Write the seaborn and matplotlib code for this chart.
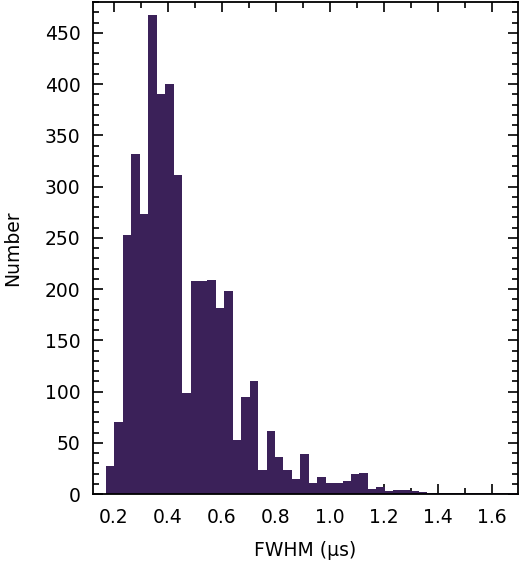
import numpy as np
import pandas as pd
import matplotlib
matplotlib.use("Agg")
import matplotlib.pyplot as plt
import seaborn as sns
from matplotlib.ticker import MultipleLocator

# Histogram bins (FWHM in microseconds)
bin_start = 0.171
bin_width = 0.0313
counts = [28, 70, 253, 332, 273, 468, 390, 400, 311, 99,
          208, 208, 209, 182, 198, 53, 95, 110, 24, 62,
          36, 24, 15, 39, 11, 17, 11, 11, 13, 20,
          21, 5, 7, 3, 4, 4, 3, 2, 1, 1,
          1, 1, 1, 1, 1, 1, 1, 1, 1]
x_ticks = [0.2, 0.4, 0.6, 0.8, 1.0, 1.2, 1.4, 1.6]
y_ticks = [0, 50, 100, 150, 200, 250, 300, 350, 400, 450]

edges = [float(e) for e in bin_start + bin_width * np.arange(len(counts) + 1)]
centers = [(a + b) / 2 for a, b in zip(edges[:-1], edges[1:])]
df = pd.DataFrame({"fwhm": centers, "n": counts})

sns.set_style("ticks")
plt.rcParams["font.family"] = ["DejaVu Sans"]
plt.rcParams["text.color"] = "black"
plt.rcParams["axes.labelcolor"] = "black"
plt.rcParams["xtick.color"] = "black"
plt.rcParams["ytick.color"] = "black"

fig = plt.figure(figsize=(5.2, 5.61), dpi=100)
ax = fig.add_axes([0.179, 0.119, 0.817, 0.877])
sns.histplot(data=df, x="fwhm", weights="n", bins=edges, ax=ax,
             color="#3b2159", alpha=1.0, edgecolor="none", linewidth=0)

ax.set_xlim(0.123, 1.697)
ax.set_ylim(0, 480)
ax.set_xticks(x_ticks)
ax.set_yticks(y_ticks)
ax.xaxis.set_minor_locator(MultipleLocator(0.1))
ax.yaxis.set_minor_locator(MultipleLocator(10))
ax.tick_params(which="both", direction="in", top=True, right=True,
               labelsize=13.5, width=1.2, colors="black")
ax.tick_params(which="major", length=7)
ax.tick_params(which="minor", length=4)
ax.tick_params(axis="x", which="major", pad=10)
ax.tick_params(axis="y", which="major", pad=9)
for s in ax.spines.values():
    s.set_linewidth(1.3)
    s.set_color("black")
ax.set_xlabel("FWHM (μs)", fontsize=13.5, labelpad=10, color="black")
ax.set_ylabel("Number", fontsize=13.5, labelpad=16, color="black")

fig.savefig("out.png", dpi=100)
